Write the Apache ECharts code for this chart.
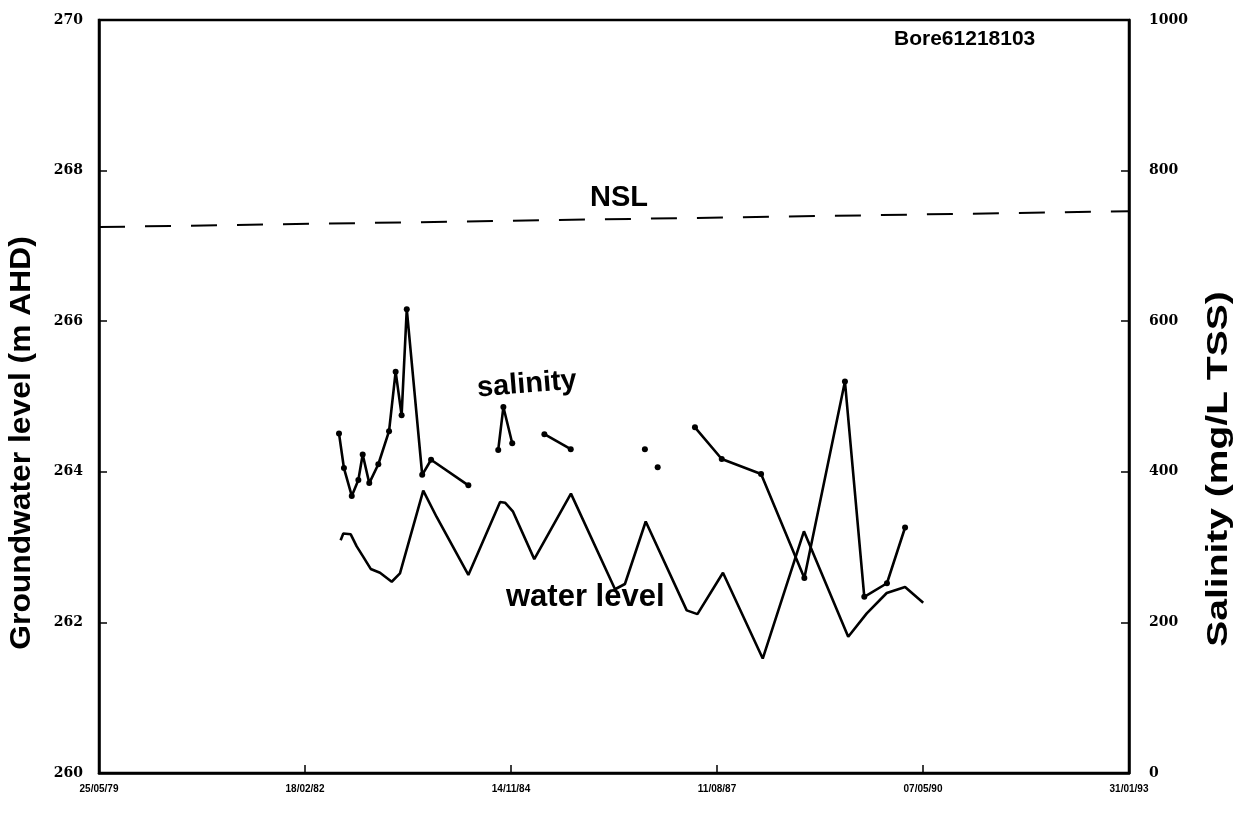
<!DOCTYPE html>
<html>
<head>
<meta charset="utf-8">
<title>Bore61218103</title>
<script src="https://cdn.jsdelivr.net/npm/echarts@6/dist/echarts.min.js"></script>
<style>
  html, body { margin: 0; padding: 0; background: #fff; overflow: hidden; }
  #chart { width: 1239px; height: 813px; }
</style>
</head>
<body>
<div id="chart"></div>
<script>
// Time is measured in days from the first axis date (25/05/1979).
const startDate = Date.UTC(1979, 4, 25);
const xTickDays = [0, 1000, 2000, 3000, 4000, 5000];

// Groundwater level (m AHD), left axis
const levelDays = [1173, 1186, 1222, 1251, 1283, 1319, 1364, 1421, 1461, 1574, 1639, 1793,
  1947, 1971, 2010, 2113, 2291, 2505, 2553, 2654, 2853, 2905, 3029, 3222, 3422, 3637,
  3727, 3824, 3913, 4001];
const levelValues = [263.09, 263.18, 263.17, 263.01, 262.87, 262.71, 262.66, 262.54, 262.65,
  263.75, 263.40, 262.63, 263.60, 263.59, 263.47, 262.84, 263.71, 262.44, 262.51, 263.34,
  262.16, 262.11, 262.66, 261.52, 263.21, 261.81, 262.12, 262.39, 262.47, 262.26];

// Salinity (mg/L TSS), right axis; samples sharing a run number are joined by a line
const salinityDays = [1165, 1189, 1227, 1259, 1280, 1312, 1356, 1408, 1440, 1469, 1494, 1569,
  1612, 1793, 1938, 1963, 2006, 2162, 2290, 2650, 2712, 2893, 3023, 3214, 3424, 3621, 3715,
  3825, 3913];
const salinityValues = [451, 405, 368, 389, 423, 385, 410, 454, 533, 475, 616, 396,
  416, 382, 429, 486, 438, 450, 430, 430, 406, 459, 417, 397, 259, 520, 234,
  252, 326];
const salinityRun = [0, 0, 0, 0, 0, 0, 0, 0, 0, 0, 0, 0,
  0, 0, 1, 1, 1, 2, 2, 3, 4, 5, 5, 5, 5, 5, 5,
  5, 5];

// NSL reference level (m AHD) at both ends of the record
const nslDays = [0, 5000];
const nslLevels = [267.25, 267.46];

function fmtDate(days) {
  const d = new Date(startDate + days * 86400000);
  const p = n => String(n).padStart(2, '0');
  return p(d.getUTCDate()) + '/' + p(d.getUTCMonth() + 1) + '/' + p(d.getUTCFullYear() % 100);
}

const salinitySeries = [];
const runs = [...new Set(salinityRun)];
runs.forEach(r => {
  const pts = [];
  salinityRun.forEach((rr, i) => { if (rr === r) pts.push([salinityDays[i], salinityValues[i]]); });
  salinitySeries.push({
    type: 'line', yAxisIndex: 1, data: pts,
    symbol: 'circle', symbolSize: 6, showSymbol: true,
    lineStyle: { color: '#000', width: 2.6 },
    itemStyle: { color: '#000' },
    animation: false, z: 3
  });
});

const tickFont = { fontFamily: 'DejaVu Serif', fontWeight: 'bold', fontSize: 14, color: '#000' };
const sans = 'Liberation Sans, Arial, sans-serif';

const chart = echarts.init(document.getElementById('chart'), null, { renderer: 'canvas', width: 1239, height: 813 });
chart.setOption({
  backgroundColor: '#fff',
  animation: false,
  grid: { left: 99, right: 110, top: 20, bottom: 40, show: true, borderColor: '#000', borderWidth: 2.5 },
  xAxis: {
    type: 'value', min: xTickDays[0], max: xTickDays[xTickDays.length - 1], interval: 1000,
    splitLine: { show: false },
    axisLine: { lineStyle: { color: '#000', width: 2.5 } },
    axisTick: { inside: true, length: 8, lineStyle: { color: '#000', width: 1.5 } },
    axisLabel: { formatter: fmtDate, margin: 11, fontFamily: 'Liberation Sans Narrow, Liberation Sans', fontWeight: 'bold', fontSize: 10, color: '#000' }
  },
  yAxis: [{
    type: 'value', min: 260, max: 270, interval: 2,
    splitLine: { show: false },
    axisLine: { show: true, lineStyle: { color: '#000', width: 2.5 } },
    axisTick: { inside: true, length: 8, lineStyle: { color: '#000', width: 1.5 } },
    axisLabel: Object.assign({ margin: 16, padding: [10, 0, 0, 0] }, tickFont)
  }, {
    type: 'value', min: 0, max: 1000, interval: 200, position: 'right',
    splitLine: { show: false },
    axisLine: { show: true, lineStyle: { color: '#000', width: 2.5 } },
    axisTick: { inside: true, length: 8, lineStyle: { color: '#000', width: 1.5 } },
    axisLabel: Object.assign({ margin: 20, formatter: v => String(v), padding: [0, 0, 6, 0] }, tickFont)
  }],
  series: [{
    type: 'line', yAxisIndex: 0,
    data: levelDays.map((d, i) => [d, levelValues[i]]),
    showSymbol: false, symbol: 'none',
    lineStyle: { color: '#000', width: 2.6 },
    z: 2
  }, {
    type: 'line', yAxisIndex: 0,
    data: nslDays.map((d, i) => [d, nslLevels[i]]),
    showSymbol: false, symbol: 'none',
    lineStyle: { color: '#000', width: 2, type: [26, 20] },
    z: 1
  }].concat(salinitySeries),
  graphic: [
    // axis titles
    { type: 'text', x: 22, y: 443, rotation: Math.PI / 2, scaleX: 1.06,
      style: { text: 'Groundwater level (m AHD)', font: 'bold 30px ' + sans, fill: '#000', textAlign: 'center', textVerticalAlign: 'middle' } },
    { type: 'text', x: 1219, y: 469, rotation: Math.PI / 2, scaleX: 1.3,
      style: { text: 'Salinity (mg/L TSS)', font: 'bold 30px ' + sans, fill: '#000', textAlign: 'center', textVerticalAlign: 'middle' } },
    // annotations
    { type: 'text', left: 894, top: 29, style: { text: 'Bore61218103', font: 'bold 21px ' + sans, fill: '#000' } },
    { type: 'text', left: 590, top: 183, style: { text: 'NSL', font: 'bold 29px ' + sans, fill: '#000' } },
    { type: 'text', x: 476, y: 374, rotation: 0.08, style: { text: 'salinity', font: 'bold 29px ' + sans, fill: '#000' } },
    { type: 'text', left: 506, top: 582, style: { text: 'water level', font: 'bold 31px ' + sans, fill: '#000' } }
  ]
});
</script>
</body>
</html>
